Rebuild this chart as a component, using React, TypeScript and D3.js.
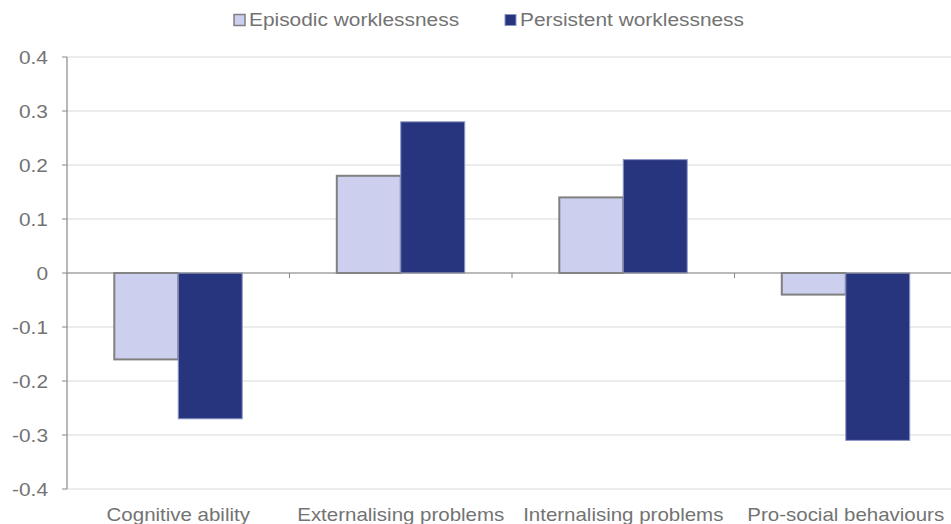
import React from "react";
import * as d3 from "d3";

const categories = ["Cognitive ability", "Externalising problems", "Internalising problems", "Pro-social behaviours"];
const seriesNames = ["Episodic worklessness", "Persistent worklessness"];
const episodic = [-0.16, 0.18, 0.14, -0.04];
const persistent = [-0.27, 0.28, 0.21, -0.31];
const yTicks = [0.4, 0.3, 0.2, 0.1, 0, -0.1, -0.2, -0.3, -0.4];

const W = 951, H = 524;
const left = 67, right = 957, top = 57, bottom = 489;
const SX = 1.13;
const FS = 18.5;
const textColor = "#737373";
const fills = ["#CCCFEE", "#27347E"];
const strokes = ["#808080", "#8C96C6"];

export default function App() {
  const x = d3.scaleBand().domain(categories).range([left, right]).paddingInner(0.425).paddingOuter(0.2125);
  const y = d3.scaleLinear().domain([-0.4, 0.4]).range([bottom, top]);
  const bw = x.bandwidth() / 2;
  const step = x.step();
  const series = [episodic, persistent];
  const fmt = (v: number) => (v === 0 ? "0" : d3.format(".1f")(v).replace("\u2212", "-"));
  return (
    <svg width={W} height={H} style={{ position: "absolute", left: 0, top: 0 }} fontFamily="'Liberation Sans', Arial, sans-serif">
      <rect width={W} height={H} fill="#fff" />
      {yTicks.map((t) => (
        <line key={"g" + t} x1={left} x2={W} y1={y(t)} y2={y(t)} stroke="#d9d9d9" strokeWidth={1} />
      ))}
      {series.map((vals, si) =>
        categories.map((c, ci) => {
          const v = vals[ci];
          const x0 = (x(c) as number) + si * bw;
          const y0 = Math.min(y(v), y(0));
          const h = Math.abs(y(v) - y(0));
          return (
            <rect key={si + "-" + ci} x={x0} y={y0} width={bw} height={h} fill={fills[si]} stroke={strokes[si]} strokeWidth={si === 0 ? 2 : 1} />
          );
        })
      )}
      <line x1={left} x2={W} y1={y(0)} y2={y(0)} stroke="#888" strokeWidth={1.2} />
      {categories.map((c, i) => (
        <line key={"xt" + i} x1={left + step * (i + 1)} x2={left + step * (i + 1)} y1={y(0)} y2={y(0) + 5} stroke="#888" strokeWidth={1} />
      ))}
      <line x1={left} x2={left} y1={top} y2={bottom} stroke="#888" strokeWidth={1.2} />
      {yTicks.map((t) => (
        <g key={"t" + t}>
          <line x1={left - 5} x2={left} y1={y(t)} y2={y(t)} stroke="#888" strokeWidth={1} />
          <text transform={`translate(${left - 19},${y(t) + 6.5}) scale(${SX},1)`} textAnchor="end" fontSize={FS} fill={textColor}>{fmt(t)}</text>
        </g>
      ))}
      {categories.map((c) => (
        <text key={c} transform={`translate(${(x(c) as number) + bw},${521}) scale(${SX * 0.98},1)`} textAnchor="middle" fontSize={FS} fill={textColor}>{c}</text>
      ))}
      {seriesNames.map((s, i) => {
        const lx = i === 0 ? 234 : 505;
        return (
          <g key={s}>
            <rect x={lx} y={14.5} width={11} height={11} fill={fills[i]} stroke={strokes[i]} strokeWidth={i === 0 ? 1.5 : 1} />
            <text transform={`translate(${lx + 15},${26}) scale(${SX},1)`} fontSize={FS} fill={textColor}>{s}</text>
          </g>
        );
      })}
    </svg>
  );
}
